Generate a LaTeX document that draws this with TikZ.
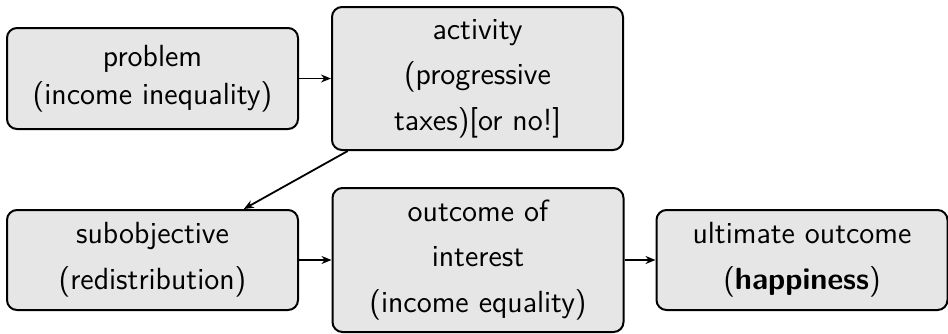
\documentclass[tikz,border=0pt]{standalone}
\usepackage{fontspec}
\usetikzlibrary{arrows.meta}
\definecolor{boxfill}{HTML}{E6E6E6}
\begin{document}
\begin{tikzpicture}[x=0.5pt,y=-0.5pt,
  box/.style={draw=black, line width=1pt, fill=boxfill, rounded corners=5pt,
    inner sep=0pt, minimum width=145.5pt, align=center,
    font=\sffamily\fontsize{15.3}{22.8}\selectfont},
  conn/.style={line width=0.9pt, -{Stealth[length=5pt,width=4pt]}}]
\useasboundingbox (0,0) rectangle (948,333);
\node[box, minimum height=50.5pt, font=\sffamily\fontsize{15.3}{19}\selectfont] (problem) at (152.5,78.5) {problem\\(income inequality)};
\node[box, minimum height=71.5pt] (activity) at (477.5,78.5) {activity\\(progressive\\taxes)[or no!]};
\node[box, minimum height=50pt] (subobj) at (152.5,260) {subobjective\\(redistribution)};
\node[box, minimum height=72pt] (outcome) at (478,260) {outcome of\\interest\\(income equality)};
\node[box, minimum height=50pt] (ultimate) at (802,260) {ultimate outcome\\(\textbf{happiness})};
\draw[conn] (problem) -- (activity);
\draw[conn] (activity) -- (subobj);
\draw[conn] (subobj) -- (outcome);
\draw[conn] (outcome) -- (ultimate);
\end{tikzpicture}
\end{document}
